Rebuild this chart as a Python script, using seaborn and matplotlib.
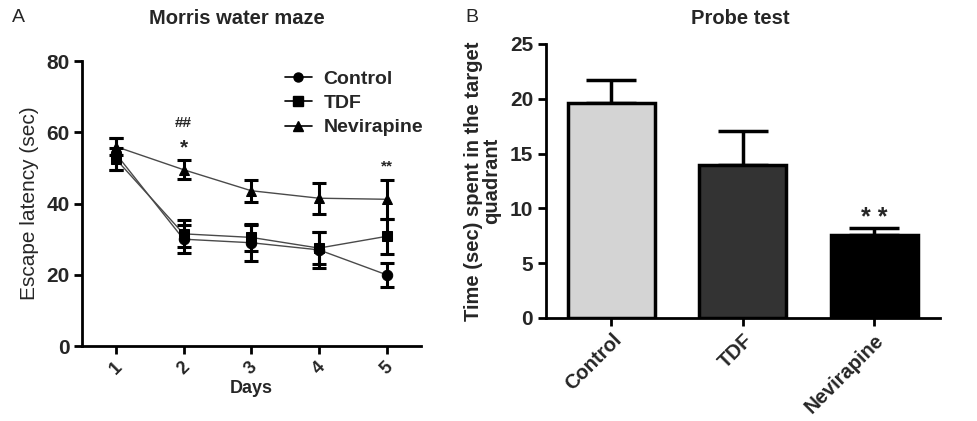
import matplotlib
matplotlib.use("Agg")
import matplotlib.pyplot as plt
import seaborn as sns
import pandas as pd
import numpy as np
from matplotlib.lines import Line2D

sns.set_theme(style="ticks")
plt.rcParams['font.family'] = ['Liberation Sans', 'DejaVu Sans']

# ---------------- data ----------------
days = [1, 2, 3, 4, 5]
groups = ["Control", "TDF", "Nevirapine"]
control_mean = [54.0, 30.0, 29.0, 27.0, 20.0]
control_sem = [4.5, 4.0, 5.0, 5.0, 3.4]
tdf_mean = [52.5, 31.5, 30.5, 27.5, 30.8]
tdf_sem = [3.0, 3.8, 3.8, 4.5, 5.0]
nev_mean = [56.0, 49.5, 43.6, 41.5, 41.2]
nev_sem = [2.4, 2.6, 3.1, 4.4, 5.5]

probe_groups = ["Control", "TDF", "Nevirapine"]
probe_mean = [19.6, 14.0, 7.6]
probe_sem = [2.1, 3.1, 0.65]
probe_colors = ["#d4d4d4", "#333333", "#000000"]

means = {"Control": control_mean, "TDF": tdf_mean, "Nevirapine": nev_mean}
sems = {"Control": control_sem, "TDF": tdf_sem, "Nevirapine": nev_sem}
markers = {"Control": "o", "TDF": "s", "Nevirapine": "^"}

df = pd.DataFrame({
    "Days": days * 3,
    "Latency": control_mean + tdf_mean + nev_mean,
    "Group": ["Control"] * 5 + ["TDF"] * 5 + ["Nevirapine"] * 5,
})

fig = plt.figure(figsize=(9.78, 4.21), dpi=100)
axA = fig.add_axes([0.0838, 0.178, 0.3462, 0.677])
axB = fig.add_axes([0.558, 0.2447, 0.403, 0.651])

narrow = ['Liberation Sans Narrow', 'Liberation Sans', 'DejaVu Sans']

# ---------------- panel A ----------------
sns.lineplot(data=df, x="Days", y="Latency", hue="Group", style="Group",
             markers=markers, dashes=False,
             palette={g: "#4a4a4a" for g in groups}, linewidth=1.0,
             markersize=7.5, markeredgecolor="black", legend=False, ax=axA)
for line in axA.get_lines():
    line.set_markerfacecolor("black")
for g in groups:
    axA.errorbar(days, means[g], yerr=sems[g], fmt="none", ecolor="black",
                 elinewidth=2.2, capsize=5, capthick=2.2, zorder=3)

axA.set_xlim(0.5, 5.5)
axA.set_ylim(0, 80)
axA.set_yticks([0, 20, 40, 60, 80])
axA.set_xticks(days)
axA.set_xticklabels([str(d) for d in days], rotation=45, fontsize=13,
                    fontweight="bold", family=narrow)
for t in axA.get_yticklabels():
    t.set_fontsize(15); t.set_fontweight("bold"); t.set_family(narrow)
axA.set_xlabel("Days", fontsize=13, fontweight="bold", family=narrow, labelpad=2)
axA.set_ylabel("Escape latency (sec)", fontsize=15, labelpad=5)
sns.despine(ax=axA)
for s in ["left", "bottom"]:
    axA.spines[s].set_linewidth(2)
    axA.spines[s].set_color("black")
axA.tick_params(axis="both", direction="out", length=6, width=2, color="black",
                pad=3)

axA.text(2, 62.5, "##", ha="center", va="center", fontsize=11, fontweight="bold")
axA.text(2, 55.5, "*", ha="center", va="center", fontsize=15, fontweight="bold")
axA.text(5, 50.5, "**", ha="center", va="center", fontsize=11, fontweight="bold")

handles = [Line2D([0], [0], color="black", linewidth=1.2, marker=markers[g],
                  markersize=6.5, markerfacecolor="black") for g in groups]
leg = axA.legend(handles, groups, loc="upper right", bbox_to_anchor=(1.06, 1.03),
                 frameon=False, handlelength=1.4, handletextpad=0.6,
                 labelspacing=0.35, prop={"size": 14, "weight": "bold",
                                          "family": narrow})

# ---------------- panel B ----------------
pdf = pd.DataFrame({"Group": probe_groups, "Time": probe_mean})
sns.barplot(data=pdf, x="Group", y="Time", hue="Group", palette=probe_colors,
            order=probe_groups, hue_order=probe_groups, width=0.66,
            edgecolor="black", linewidth=2.5, errorbar=None, legend=False,
            ax=axB)
axB.errorbar(range(3), probe_mean,
             yerr=[np.zeros(3), probe_sem], fmt="none", ecolor="black",
             elinewidth=2.5, capsize=18, capthick=2.5, zorder=0)
for p in axB.patches:
    p.set_zorder(2)
axB.set_xlim(-0.5, 2.5)
axB.set_ylim(0, 25)
axB.set_yticks([0, 5, 10, 15, 20, 25])
axB.set_xticks(range(3))
axB.set_xticklabels(probe_groups, rotation=45, ha="right", rotation_mode="anchor",
                    fontsize=14.5, fontweight="bold")
for t in axB.get_yticklabels():
    t.set_fontsize(15); t.set_fontweight("bold")
axB.set_xlabel("")
axB.set_ylabel("Time (sec) spent in the target\nquadrant", fontsize=14.5,
               fontweight="bold", labelpad=6, linespacing=1.0)
sns.despine(ax=axB)
for s in ["left", "bottom"]:
    axB.spines[s].set_linewidth(2)
    axB.spines[s].set_color("black")
axB.tick_params(axis="both", direction="out", length=6, width=2, color="black",
                pad=3)
axB.text(2, 9.1, "* *", ha="center", va="center", fontsize=18, fontweight="bold")

# ---------------- titles ----------------
fig.text(237 / 978, 1 - 18 / 421, "Morris water maze", ha="center", va="center",
         fontsize=14.5, fontweight="bold")
fig.text(740 / 978, 1 - 18 / 421, "Probe test", ha="center", va="center",
         fontsize=14.5, fontweight="bold")
fig.text(12 / 978, 1 - 18 / 421, "A", ha="left", va="center", fontsize=14)
fig.text(465 / 978, 1 - 18 / 421, "B", ha="left", va="center", fontsize=14)

fig.savefig("out.png", dpi=100)
